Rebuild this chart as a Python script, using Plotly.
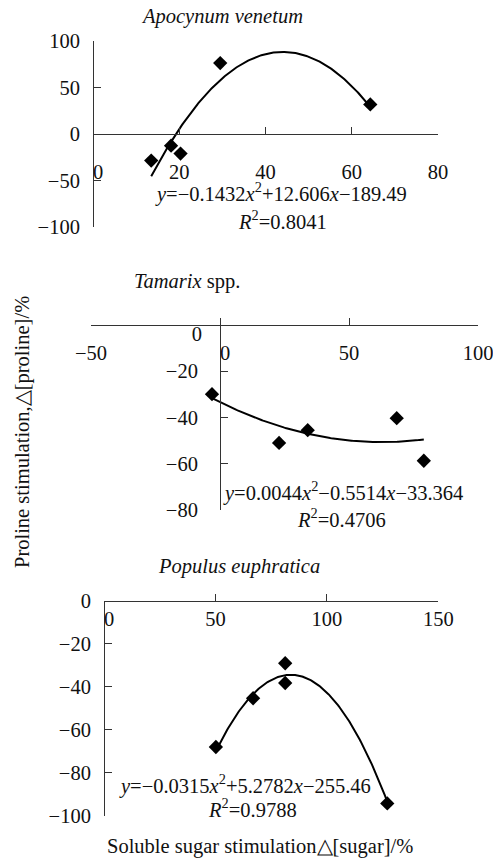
import numpy as np
import plotly.graph_objects as go

W, H = 493, 859

# ---------------- data ----------------
apo_x = [13.5, 18.1, 20.3, 29.5, 64.3]
apo_y = [-28.5, -12.5, -21.0, 76.0, 31.7]
apo_coef = [-0.1432, 12.606, -189.49]

tam_x = [-3.1, 22.9, 34.0, 68.5, 79.0]
tam_y = [-29.9, -51.0, -45.5, -40.3, -58.7]
tam_coef = [0.0044, -0.5514, -33.364]

pop_x = [50.2, 66.9, 81.3, 81.3, 127.1]
pop_y = [-68.0, -45.3, -29.0, -38.2, -94.3]
pop_coef = [-0.0315, 5.2782, -255.46]

apo_xticks = [0, 20, 40, 60, 80]
apo_yticks = [-100, -50, 0, 50, 100]
tam_xticks = [-50, 0, 50, 100]
tam_yticks = [-80, -60, -40, -20]
pop_xticks = [0, 50, 100, 150]
pop_yticks = [-100, -80, -60, -40, -20, 0]

titles = ["<i>Apocynum venetum</i>", "<i>Tamarix</i> spp.", "<i>Populus euphratica</i>"]
equations = [
    "<i>y</i>=−0.1432<i>x</i><sup>2</sup>+12.606<i>x</i>−189.49",
    "<i>y</i>=0.0044<i>x</i><sup>2</sup>−0.5514<i>x</i>−33.364",
    "<i>y</i>=−0.0315<i>x</i><sup>2</sup>+5.2782<i>x</i>−255.46",
]
r2s = ["<i>R</i><sup>2</sup>=0.8041", "<i>R</i><sup>2</sup>=0.4706", "<i>R</i><sup>2</sup>=0.9788"]
ytitle = "Proline stimulation,△[proline]/%"
xtitle = "Soluble sugar stimulation△[sugar]/%"

FONT = "Liberation Serif, Times New Roman, serif"
FS = 20.5
AX = "#333333"
TXT = "#111111"


def px(v):
    return v / W


def py(v):
    return 1 - v / H


panels = [
    dict(xpx=(93, 438), xr=(0, 80), ypx=(227.3, 40.7), yr=(-100, 100), lab_y=170,
         xt=apo_xticks, yt=apo_yticks, ystand=9),
    dict(xpx=(91, 478), xr=(-50, 100), ypx=(510, 325), yr=(-80, 0), lab_y=351,
         xt=tam_xticks, yt=tam_yticks, ystand=18),
    dict(xpx=(104, 438.3), xr=(0, 150), ypx=(815.7, 601), yr=(-100, 0), lab_y=617.7,
         xt=pop_xticks, yt=pop_yticks, ystand=9),
]
data = [(apo_x, apo_y, apo_coef), (tam_x, tam_y, tam_coef), (pop_x, pop_y, pop_coef)]

fig = go.Figure()
layout = {}


def axname(i):
    return "" if i == 1 else str(i)


for k, (p, (xs, ys, cf)) in enumerate(zip(panels, data)):
    xd = [px(p["xpx"][0]), px(p["xpx"][1])]
    yd = [py(p["ypx"][0]), py(p["ypx"][1])]
    y0p = yd[0] + (0 - p["yr"][0]) / (p["yr"][1] - p["yr"][0]) * (yd[1] - yd[0])
    x0p = xd[0] + (0 - p["xr"][0]) / (p["xr"][1] - p["xr"][0]) * (xd[1] - xd[0])

    xi = 2 * k + 1
    xl = 2 * k + 2
    yi = k + 1
    xm, xlab, ym = axname(xi), axname(xl), axname(yi)

    layout["xaxis" + xm] = dict(
        domain=xd, range=list(p["xr"]), anchor="free", position=y0p,
        showline=True, linecolor=AX, linewidth=1, ticks="inside", ticklen=7,
        tickcolor=AX, tickvals=p["xt"], showticklabels=False, automargin=False,
        showgrid=False, zeroline=False, fixedrange=True,
    )
    xtext = [("\u00a0\u00a00" if v == 0 else ("−" + str(-v) if v < 0 else str(v))) for v in p["xt"]]
    layout["xaxis" + xlab] = dict(
        domain=xd, range=list(p["xr"]), anchor="free", overlaying="x" + xm,
        position=py(p["lab_y"] - 13), showline=False, ticks="", tickvals=p["xt"],
        ticktext=xtext, tickfont=dict(family=FONT, size=FS, color=TXT), automargin=False,
        ticklabeloverflow="allow",
        showgrid=False, zeroline=False, fixedrange=True,
    )
    layout["yaxis" + ym] = dict(
        domain=yd, range=list(p["yr"]), anchor="free", position=x0p,
        showline=True, linecolor=AX, linewidth=1, ticks="inside", ticklen=7,
        tickcolor=AX, tickvals=p["yt"], tickfont=dict(family=FONT, size=FS, color=TXT),
        ticklabelstandoff=p["ystand"], automargin=False, ticklabeloverflow="allow",
        showgrid=False, zeroline=False, fixedrange=True,
    )

    xx = np.linspace(min(xs), max(xs), 200)
    yy = cf[0] * xx ** 2 + cf[1] * xx + cf[2]
    fig.add_trace(go.Scatter(x=xx, y=yy, mode="lines", line=dict(color="black", width=2),
                             xaxis="x" + xm, yaxis="y" + ym, hoverinfo="skip"))
    fig.add_trace(go.Scatter(x=xs, y=ys, mode="markers",
                             marker=dict(symbol="diamond", size=11, color="black"),
                             xaxis="x" + xm, yaxis="y" + ym))
    fig.add_trace(go.Scatter(x=[], y=[], xaxis="x" + xlab, yaxis="y" + ym, hoverinfo="skip"))

# overlay y axis carrying the lowered "0" label of the middle panel
p = panels[1]
xd = [px(p["xpx"][0]), px(p["xpx"][1])]
x0p = xd[0] + (0 - p["xr"][0]) / (p["xr"][1] - p["xr"][0]) * (xd[1] - xd[0])
layout["yaxis4"] = dict(
    domain=[py(p["ypx"][0]), py(p["ypx"][1])], range=list(p["yr"]), anchor="free",
    overlaying="y2", position=x0p, showline=False, ticks="", tickvals=[0], ticktext=["0"],
    tickfont=dict(family=FONT, size=FS, color=TXT), ticklabelstandoff=18,
    ticklabelshift=9, automargin=False, ticklabeloverflow="allow",
    showgrid=False, zeroline=False, fixedrange=True,
)
fig.add_trace(go.Scatter(x=[], y=[], xaxis="x3", yaxis="y4", hoverinfo="skip"))

annots = []
title_pos = [(222, 17), (187, 281), (239, 566)]
eq_pos = [(280.5, 193), (343, 491.7), (245, 784.3)]
r2_pos = [(282, 220), (341.5, 518), (252, 807.7)]


def ann(t, x, y, angle=0):
    return dict(text=t, x=px(x), y=py(y), xref="paper", yref="paper", xanchor="center",
                yanchor="middle", showarrow=False, textangle=angle,
                font=dict(family=FONT, size=FS, color=TXT))


for t, (ax_, ay_) in zip(titles, title_pos):
    annots.append(ann(t, ax_, ay_))
for t, (ax_, ay_) in zip(equations, eq_pos):
    annots.append(ann(t, ax_, ay_))
for t, (ax_, ay_) in zip(r2s, r2_pos):
    annots.append(ann(t, ax_, ay_))
annots.append(ann(ytitle, 22, 432, -90))
annots.append(ann(xtitle, 260, 846))

fig.update_layout(
    width=W, height=H, margin=dict(l=0, r=0, t=0, b=0, pad=0, autoexpand=False),
    paper_bgcolor="white", plot_bgcolor="white", showlegend=False,
    annotations=annots, **layout,
)
fig.write_html("out.html", config={"displayModeBar": False})
